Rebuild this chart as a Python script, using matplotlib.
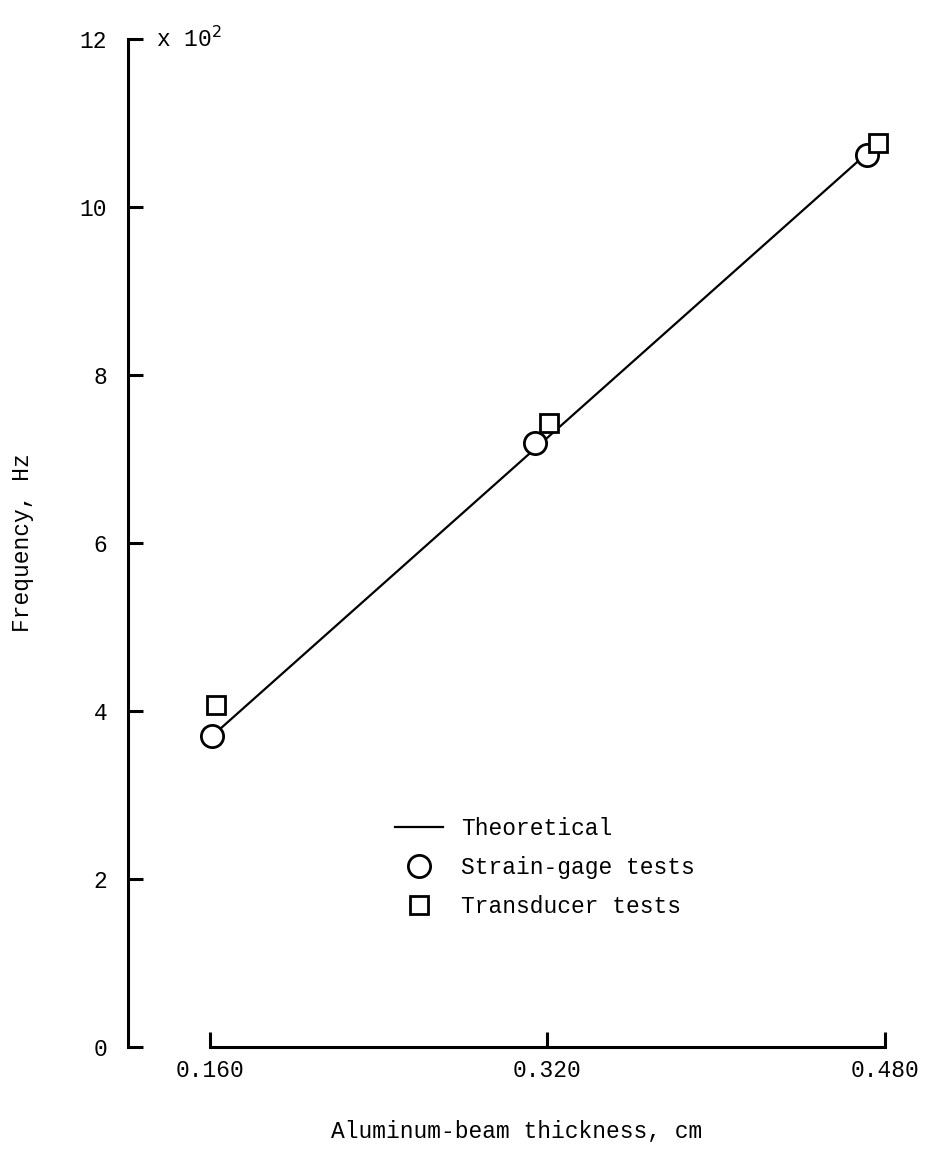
import matplotlib
matplotlib.use('Agg')
import matplotlib.pyplot as plt

# beam thickness (cm) vs frequency (x 10^2 Hz)
theory_thickness = [0.160, 0.472]
theory_freq = [3.68, 10.65]

strain_thickness = [0.161, 0.314, 0.4715]
strain_freq = [3.70, 7.19, 10.62]

transducer_thickness = [0.163, 0.3207, 0.4767]
transducer_freq = [4.07, 7.43, 10.76]

x_ticks = [0.160, 0.320, 0.480]
x_ticklabels = ['0.160', '0.320', '0.480']
y_ticks = [0, 2, 4, 6, 8, 10, 12]

plt.rcParams['font.family'] = ['Liberation Mono', 'DejaVu Sans Mono']
plt.rcParams['font.size'] = 16.5

fig = plt.figure(figsize=(9.25, 11.57), dpi=100)
ax = fig.add_axes([0.1384, 0.0951, 0.841, 0.8712])

ax.plot(theory_thickness, theory_freq, color='black', lw=1.6, label='Theoretical', zorder=2)
ax.plot(strain_thickness, strain_freq, ls='none', marker='o', ms=16, mfc='white',
        mec='black', mew=2, label='Strain-gage tests', zorder=3)
ax.plot(transducer_thickness, transducer_freq, ls='none', marker='s', ms=13, mfc='white',
        mec='black', mew=2, label='Transducer tests', zorder=4)

ax.set_xlim(0.1211, 0.49)
ax.set_ylim(0, 12)
ax.set_xticks(x_ticks)
ax.set_xticklabels(x_ticklabels)
ax.set_yticks(y_ticks)

for s in ['top', 'right']:
    ax.spines[s].set_visible(False)
ax.spines['left'].set_linewidth(2.2)
ax.spines['bottom'].set_linewidth(2.2)
ax.spines['left'].set_bounds(0, 12)
ax.spines['bottom'].set_bounds(0.160, 0.480)

ax.tick_params(axis='x', direction='in', length=11, width=2.2, pad=9)
ax.tick_params(axis='y', direction='in', length=11, width=2.2, pad=15)

ax.text(0.1344, 12, r'x 10$^2$', ha='left', va='center', fontsize=16.5)

ax.set_xlabel('Aluminum-beam thickness, cm', labelpad=27)
ax.set_ylabel('Frequency, Hz', labelpad=33)

ax.legend(loc='upper left', bbox_to_anchor=(0.343, 0.228), frameon=False,
          borderpad=0, borderaxespad=0, handlelength=2.1, handletextpad=0.8,
          labelspacing=0.7)

fig.savefig('out.png', dpi=100)
